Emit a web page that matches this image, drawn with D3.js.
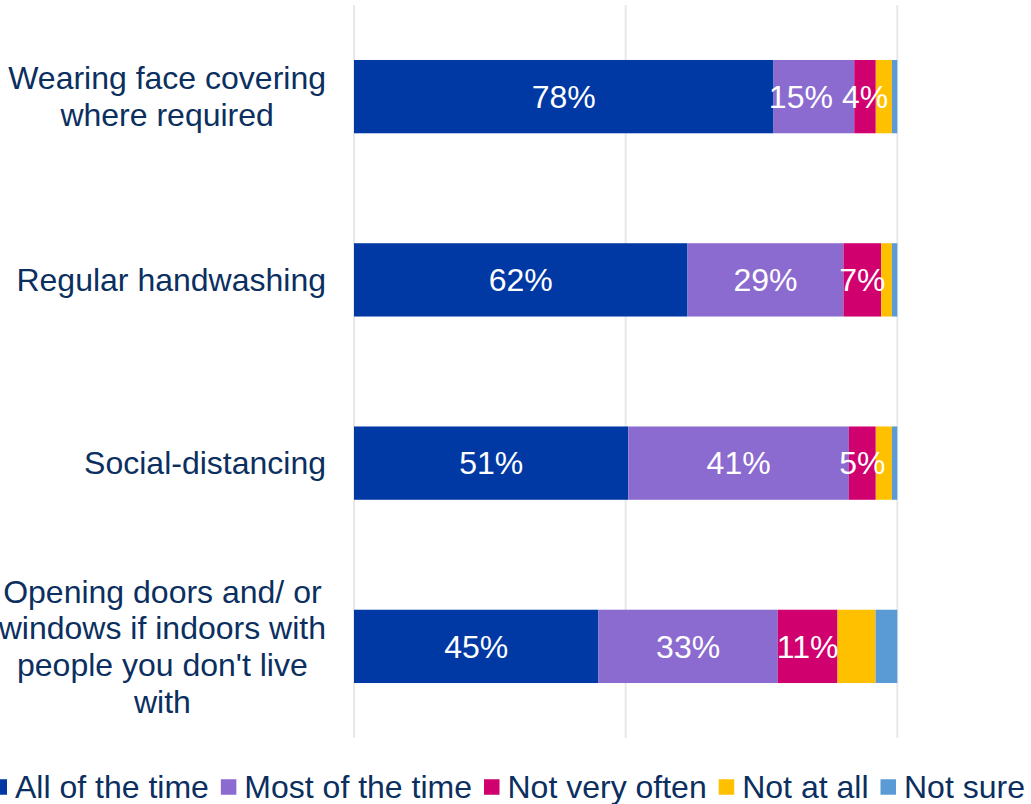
<!DOCTYPE html>
<html>
<head>
<meta charset="utf-8">
<script src="https://cdn.jsdelivr.net/npm/d3@7"></script>
<style>
  html, body { margin: 0; padding: 0; background: #fff; }
  svg { display: block; font-family: "Liberation Sans", Arial, sans-serif; }
</style>
</head>
<body>
<svg id="chart" width="1031" height="804"></svg>
<script>
// ---- data ----
const categories = [
  ["Wearing face covering", "where required"],
  ["Regular handwashing"],
  ["Social-distancing"],
  ["Opening doors and/ or", "windows if indoors with", "people you don't live", "with"]
];
const seriesNames = ["All of the time", "Most of the time", "Not very often", "Not at all", "Not sure"];
const allOfTheTime  = [78, 62, 51, 45];
const mostOfTheTime = [15, 29, 41, 33];
const notVeryOften  = [4, 7, 5, 11];
const notAtAll      = [3, 2, 3, 7];
const notSure       = [1, 1, 1, 4];
const colors = ["#0038a4", "#8b6bcf", "#d0006f", "#ffc000", "#5b9bd5"];
const xTicks = [0, 0.5, 1];

// ---- layout ----
const svg = d3.select("#chart");
const fontSize = 32;
const textColor = "#0b2f5f";
const plot = { left: 354, right: 897.3, top: 5, bottom: 738 };

const seriesValues = [allOfTheTime, mostOfTheTime, notVeryOften, notAtAll, notSure];
const rows = categories.map((c, i) => {
  const vals = seriesValues.map(s => s[i]);
  const total = d3.sum(vals);
  let cum = 0;
  const segs = vals.map((v, j) => {
    const s = { series: j, value: v, x0: cum / total, x1: (cum + v) / total };
    cum += v;
    return s;
  });
  return { idx: i, label: c, segs };
});

const x = d3.scaleLinear().domain([0, 1]).range([plot.left, plot.right]);
const y = d3.scaleBand().domain(d3.range(categories.length)).range([plot.top, plot.bottom]).padding(0);
const barH = y.bandwidth() * 0.4;

// gridlines
svg.append("g").selectAll("line").data(xTicks).join("line")
  .attr("x1", d => x(d)).attr("x2", d => x(d))
  .attr("y1", plot.top).attr("y2", plot.bottom)
  .attr("stroke", "#e8e8e8").attr("stroke-width", 2);

// bars
const rowG = svg.append("g").selectAll("g").data(rows).join("g")
  .attr("transform", d => `translate(0,${y(d.idx) + y.bandwidth() / 2 - barH / 2})`);

rowG.selectAll("rect").data(d => d.segs).join("rect")
  .attr("x", d => x(d.x0))
  .attr("width", d => x(d.x1) - x(d.x0))
  .attr("y", 0).attr("height", barH)
  .attr("fill", d => colors[d.series]);

// data labels (first three series), nudged left if they would collide
const gap = 9;
rowG.each(function(r) {
  const g = d3.select(this);
  const texts = r.segs.filter(s => s.series < 3).map(s => g.append("text")
    .attr("x", (x(s.x0) + x(s.x1)) / 2)
    .attr("y", barH / 2 + fontSize * 0.35)
    .attr("text-anchor", "middle")
    .attr("fill", "#fff")
    .attr("font-size", fontSize)
    .text(s.value + "%"));
  for (let k = texts.length - 2; k >= 0; k--) {
    const a = texts[k], b = texts[k + 1];
    const wa = a.node().getComputedTextLength(), wb = b.node().getComputedTextLength();
    const aRight = +a.attr("x") + wa / 2, bLeft = +b.attr("x") - wb / 2;
    if (aRight > bLeft - gap) a.attr("x", +a.attr("x") - (aRight - bLeft + gap));
  }
});

// category labels
const labelRight = 326;
const lineH = 36.7;
rows.forEach(r => {
  const g = svg.append("g");
  const texts = r.label.map(line => g.append("text")
    .attr("font-size", fontSize).attr("fill", textColor)
    .attr("text-anchor", "middle").text(line));
  const maxW = d3.max(texts, t => t.node().getComputedTextLength());
  const cx = labelRight - maxW / 2;
  const n = r.label.length;
  const cy = y(r.idx) + y.bandwidth() / 2;
  texts.forEach((t, k) => {
    t.attr("x", cx).attr("y", cy + (k - (n - 1) / 2) * lineH + fontSize * 0.35);
  });
});

// legend
const leg = svg.append("g");
let lx = -8.5;
const sq = 15.5, ly = 787;
seriesNames.forEach((name, i) => {
  leg.append("rect").attr("x", lx).attr("y", ly - sq / 2).attr("width", sq).attr("height", sq).attr("fill", colors[i]);
  const t = leg.append("text").attr("x", lx + sq + 8).attr("y", ly + fontSize * 0.33)
    .attr("font-size", fontSize).attr("fill", textColor).text(name);
  lx += sq + 8 + t.node().getComputedTextLength() + 12;
});
</script>
</body>
</html>
